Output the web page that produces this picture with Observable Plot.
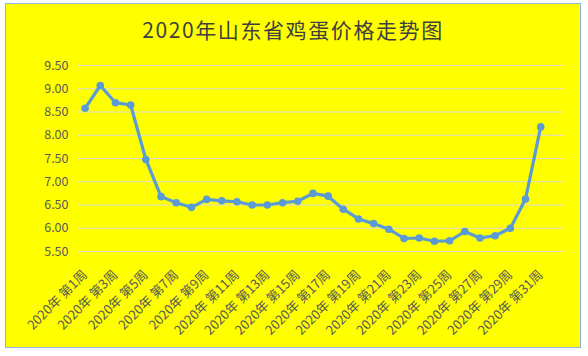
<!DOCTYPE html>
<html>
<head>
<meta charset="utf-8">
<script src="https://cdn.jsdelivr.net/npm/d3@7"></script>
<script src="https://cdn.jsdelivr.net/npm/@observablehq/plot@0.6"></script>
<style>
  html, body { margin: 0; padding: 0; background: #ffffff; }
  #box {
    position: absolute; left: 5px; top: 3px; width: 574px; height: 343px;
    border: 1px solid #8db4e2; background: #ffff00; overflow: hidden;
  }
  #title {
    position: absolute; left: 0; top: 13px; width: 574px; text-align: center;
    font-family: "Noto Sans CJK SC", sans-serif; font-size: 21px; line-height: 24px;
    letter-spacing: 1.6px; color: #404040;
  }
  #chart { position: absolute; left: 0; top: 40px; }
  #chart svg { background: transparent; }
</style>
</head>
<body>
<div id="box">
  <div id="title">2020年山东省鸡蛋价格走势图</div>
  <div id="chart"></div>
</div>
<script>
const weeks = d3.range(1, 32);
const prices = [8.58, 9.07, 8.70, 8.65, 7.48, 6.68, 6.55, 6.45, 6.62, 6.59,
                6.57, 6.50, 6.50, 6.55, 6.58, 6.75, 6.69, 6.41, 6.20, 6.10,
                5.98, 5.78, 5.79, 5.72, 5.73, 5.93, 5.79, 5.84, 6.00, 6.63, 8.18];
const yTicks = [5.5, 6.0, 6.5, 7.0, 7.5, 8.0, 8.5, 9.0, 9.5];
const xTicks = weeks.filter(w => w % 2 === 1);
const xLabel = w => `2020年 第${w}周`;

const data = weeks.map((w, i) => ({week: w, price: prices[i]}));

const chart = Plot.plot({
  width: 574,
  height: 303,
  marginTop: 21,
  marginBottom: 96,
  marginLeft: 71,
  marginRight: 17,
  style: {background: "transparent", fontFamily: "'Noto Sans CJK SC', sans-serif", fontSize: "12px", color: "#595959"},
  x: {type: "linear", domain: [0.5, 32.5]},
  y: {domain: [5.5, 9.5]},
  marks: [
    Plot.ruleY(yTicks, {stroke: "#d9d9d9", strokeWidth: 1.2}),
    Plot.axisY({ticks: yTicks, tickFormat: d => d.toFixed(2), tickSize: 0, tickPadding: 9, fontSize: 12.5, fill: "#595959", label: null}),
    Plot.axisX({ticks: xTicks, tickFormat: xLabel, tickSize: 0, tickPadding: 21, tickRotate: -45, fontSize: 13, fill: "#595959", label: null}),
    Plot.line(data, {x: "week", y: "price", stroke: "#5b9bd5", strokeWidth: 3.2}),
    Plot.dot(data, {x: "week", y: "price", r: 3.8, fill: "#5b9bd5", stroke: "none"})
  ]
});
document.getElementById("chart").appendChild(chart);
</script>
</body>
</html>
